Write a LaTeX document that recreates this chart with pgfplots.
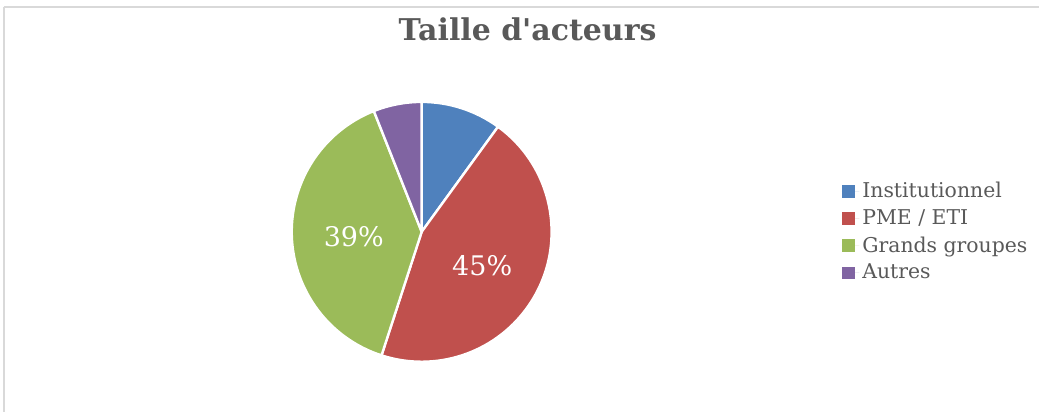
\documentclass[border=0pt]{standalone}
\usepackage{pgfplots}
\usepackage{pgfplotstable}
\pgfplotsset{compat=1.18}
\usetikzlibrary{calc}
\usepackage{fontspec}
\setmainfont{DejaVu Serif}

\definecolor{cblue}{HTML}{4F81BD}
\definecolor{cred}{HTML}{C0504D}
\definecolor{cgreen}{HTML}{9BBB59}
\definecolor{cpurple}{HTML}{8064A2}
\definecolor{txtgray}{HTML}{595959}
\definecolor{framegray}{HTML}{D9D9D9}

% share of each category (%), colour, and whether the value is printed
\pgfplotstableread{
label            value  col      show
Institutionnel   10     cblue    0
{PME / ETI}      45     cred     1
{Grands groupes} 39     cgreen   1
Autres           6      cpurple  0
}\piedata

\begin{document}
\begin{tikzpicture}
\begin{axis}[
    scale only axis,
    width=520pt, height=206pt,
    xmin=0, xmax=1040, ymin=0, ymax=412,
    axis lines=none, ticks=none,
    clip=false,
    legend style={
        at={(axis cs:842,233)}, anchor=north west,
        draw=none, fill=none,
        font=\fontsize{10.2}{12}\selectfont\color{txtgray},
        row sep=1.5pt, inner sep=0pt,
        nodes={inner sep=1.5pt},
    },
    legend cell align=left,
    legend image code/.code={\fill[#1] (0pt,-3.2pt) rectangle (6.4pt,3.2pt);
                             \path (0pt,0pt) -- (8.8pt,0pt);},
]
% chart frame (top and left edge visible)
\draw[framegray, line width=0.8pt] (axis cs:4,0) -- (axis cs:4,405.4);
\draw[framegray, line width=0.8pt] (axis cs:4,405) -- (axis cs:1040,405);
\path (axis cs:0,0) rectangle (axis cs:1040,412);

\node[font=\fontsize{15}{18}\selectfont\bfseries, text=txtgray]
    at (axis cs:528,383) {Taille d\textquotesingle acteurs};

\addlegendimage{fill=cblue, draw=none}
\addlegendentry{Institutionnel}
\addlegendimage{fill=cred, draw=none}
\addlegendentry{PME / ETI}
\addlegendimage{fill=cgreen, draw=none}
\addlegendentry{Grands groupes}
\addlegendimage{fill=cpurple, draw=none}
\addlegendentry{Autres}

% wedges, clockwise from 12 o'clock
\pgfplotsextra{
    \pgfplotstablegetrowsof{\piedata}
    \pgfmathtruncatemacro\lastrow{\pgfplotsretval-1}
    \gdef\cum{0}
    \foreach \i in {0,...,\lastrow}{
        \pgfplotstablegetelem{\i}{value}\of\piedata \let\val\pgfplotsretval
        \pgfplotstablegetelem{\i}{col}\of\piedata \let\slicecol\pgfplotsretval
        \pgfplotstablegetelem{\i}{show}\of\piedata \let\showit\pgfplotsretval
        \pgfmathsetmacro\angA{90-3.6*\cum}
        \pgfmathsetmacro\angB{90-3.6*(\cum+\val)}
        \pgfmathsetmacro\angM{(\angA+\angB)/2}
        \fill[fill=\slicecol, draw=white, line width=1.2pt, line join=round]
            (axis cs:422,180) -- ++(\angA:65pt)
            arc[start angle=\angA, end angle=\angB, radius=65pt] -- cycle;
        \ifnum\showit=1
            \node[text=white, font=\fontsize{13.5}{16}\selectfont]
                at ($(axis cs:422,180)+(\angM:34pt)+(0,-1.5pt)$) {\val\%};
        \fi
        \pgfmathsetmacro\newcum{\cum+\val}
        \xdef\cum{\newcum}
    }
}
\end{axis}
\end{tikzpicture}
\end{document}
